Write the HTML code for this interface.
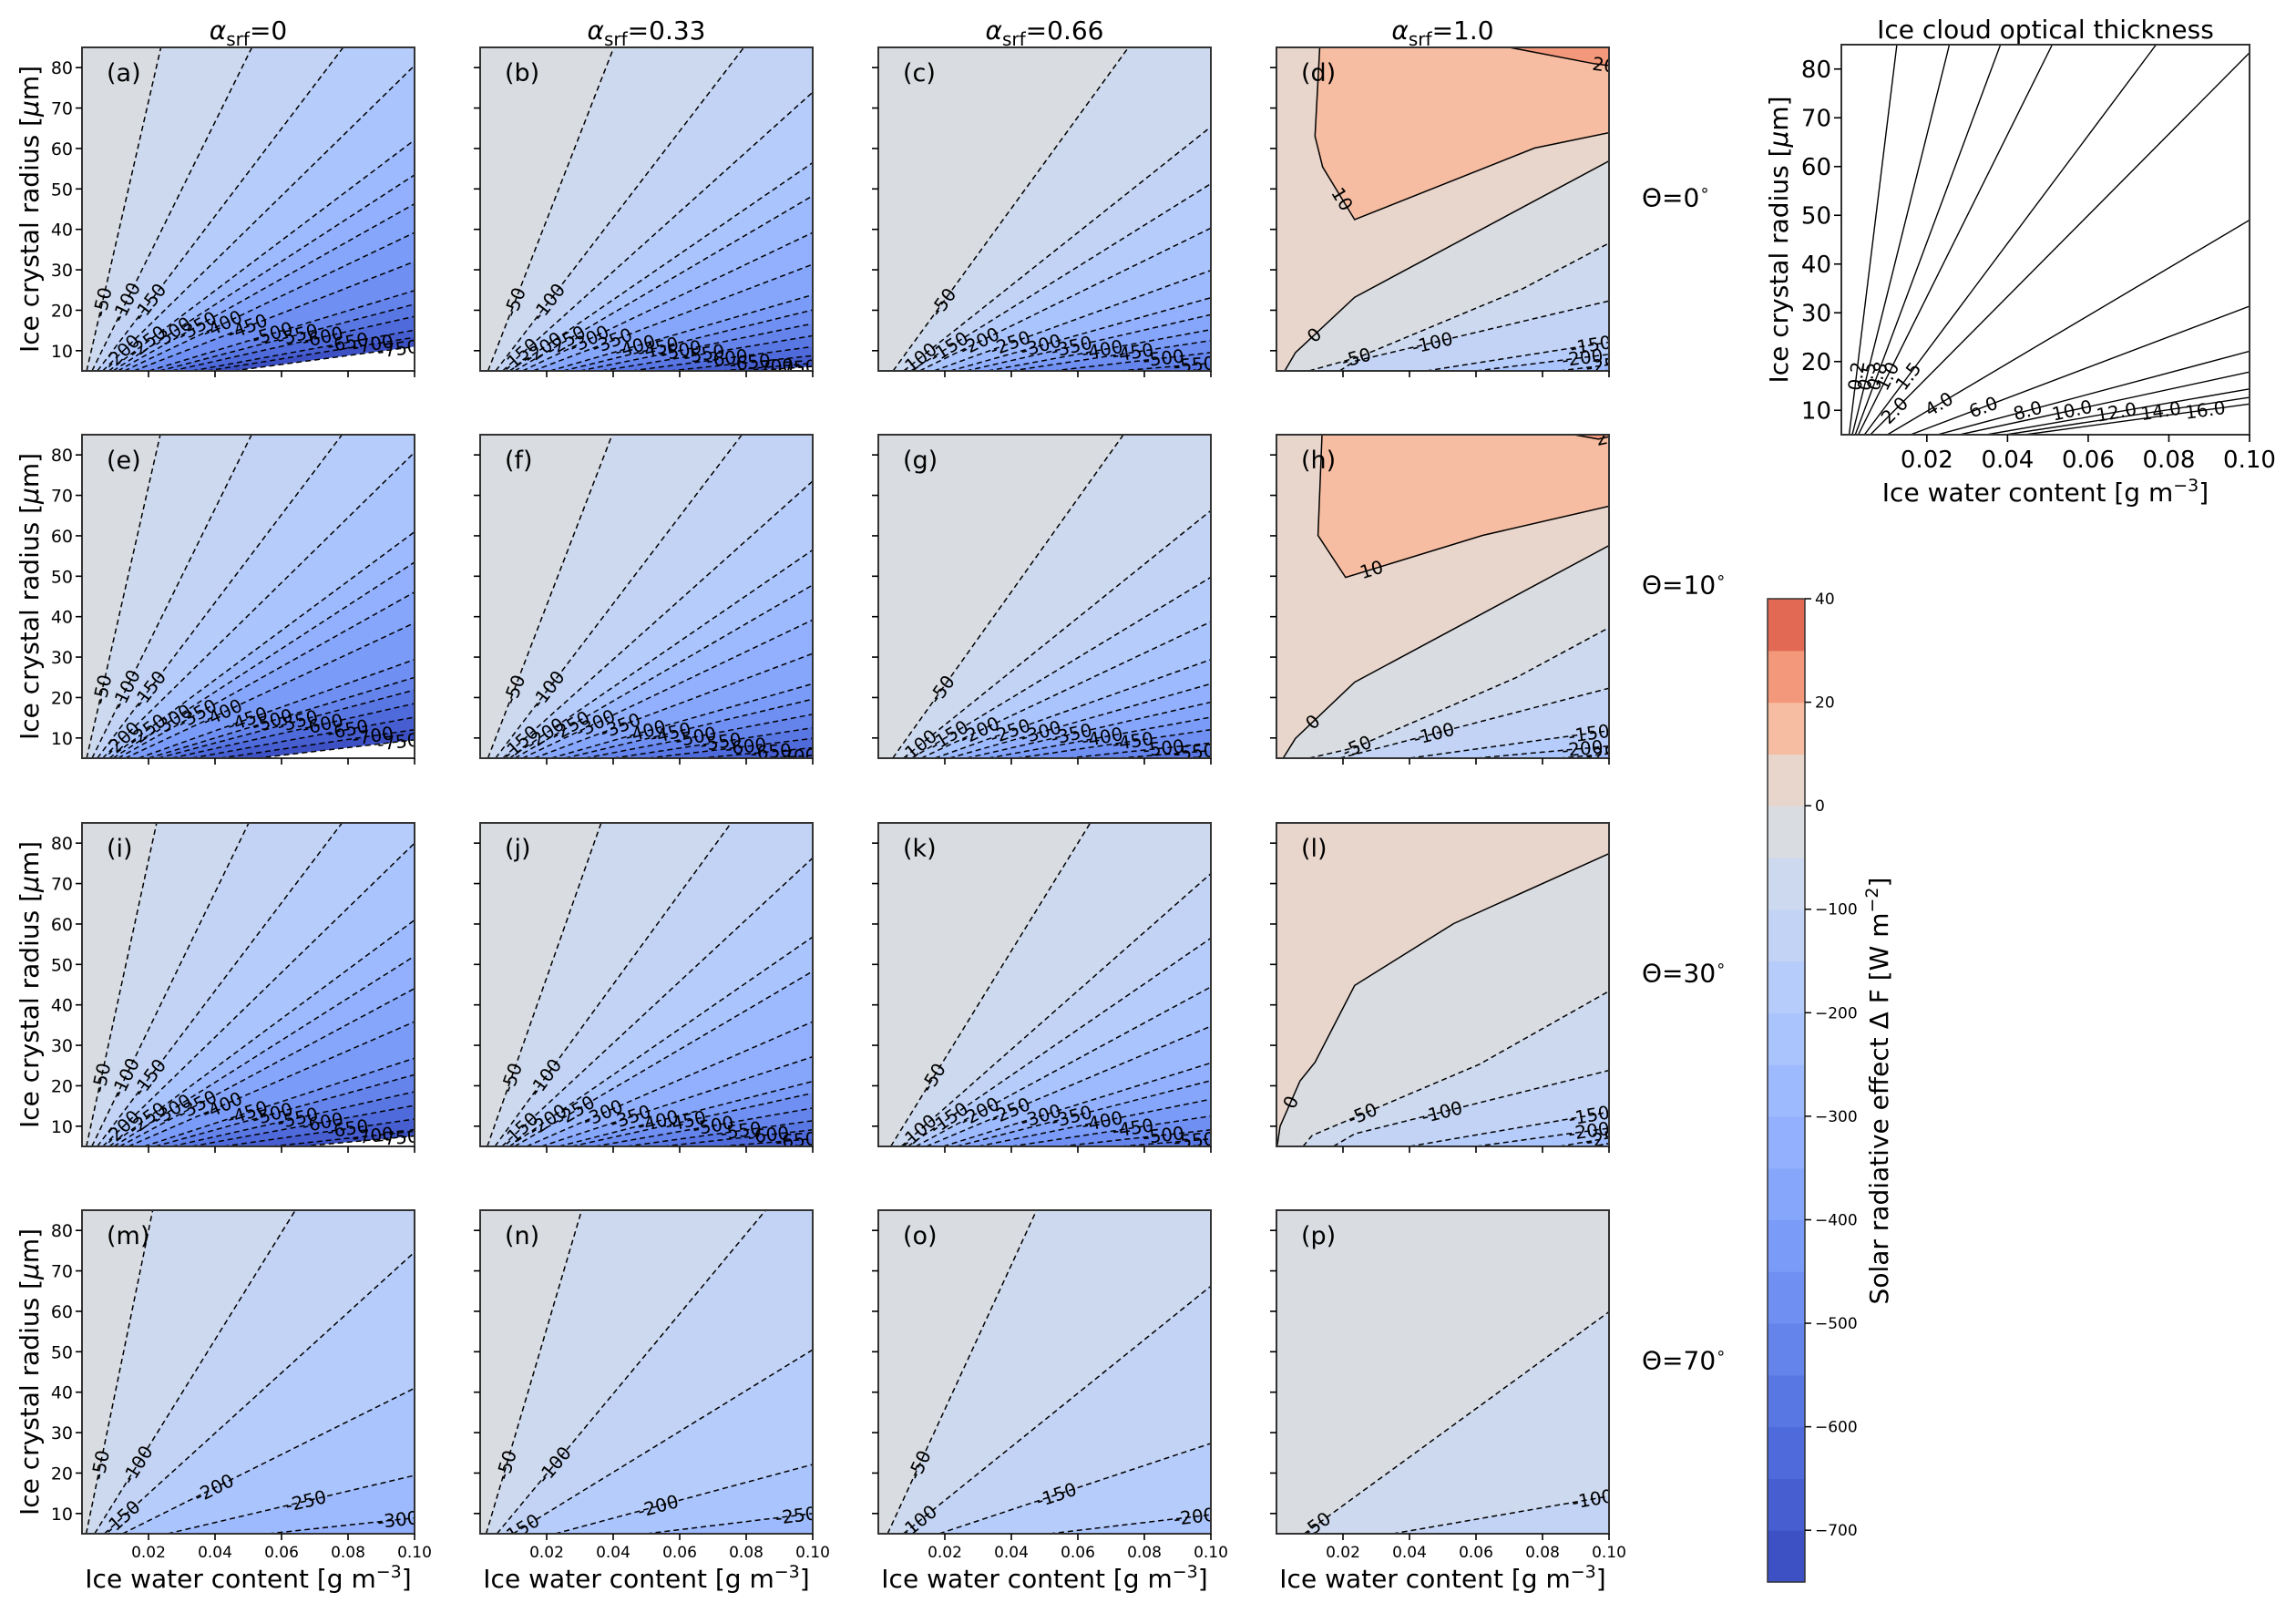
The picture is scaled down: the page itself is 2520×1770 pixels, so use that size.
<!DOCTYPE html>
<html><head><meta charset="utf-8"><title>Solar radiative effect of ice clouds</title>
<style>
html,body{margin:0;padding:0;background:#fff;width:2520px;height:1770px;overflow:hidden;}
svg{display:block;font-family:"DejaVu Sans","Liberation Sans",sans-serif;overflow:hidden;}
</style></head>
<body>
<svg id="fig" xmlns="http://www.w3.org/2000/svg" width="2520" height="1770" viewBox="0 0 2520 1770">
<rect x="0" y="0" width="2520" height="1770" fill="#ffffff"/>
</svg>
<script>
// ---------- data ----------
const levels = [-750,-700,-650,-600,-550,-500,-450,-400,-350,-300,-250,-200,-150,-100,-50,0,10,20,30,40];
const bandColors = ["rgb(61,81,196)","rgb(70,94,208)","rgb(79,106,218)","rgb(89,119,227)","rgb(100,131,235)","rgb(111,143,242)","rgb(122,155,247)","rgb(134,166,251)","rgb(146,176,254)","rgb(158,186,254)","rgb(170,196,253)","rgb(182,204,250)","rgb(194,211,245)","rgb(205,217,238)","rgb(217,220,225)","rgb(232,214,204)","rgb(246,189,162)","rgb(243,152,122)","rgb(226,106,84)"];
const negLevels = [-50,-100,-150,-200,-250,-300,-350,-400,-450,-500,-550,-600,-650,-700,-750];
// contour ratio IWC/r (x1e-3 g m^-3 per um) at the exit point
const ratiosA = [0.279,0.601,0.924,1.242,1.61,1.87,2.16,2.55,3.12,4.02,4.65,5.41,6.62,7.52,9.09];
const ratiosB = [0.473,0.933,1.353,1.77,2.07,2.55,3.19,4.2,4.98,5.99,7.3,9.1,11.4,14.5,16.4];
const ratiosC = [0.885,1.53,1.95,2.48,3.35,4.33,5.29,6.58,8.0,10.5,14.5];
const ratiosE = [0.277,0.60,0.92,1.24,1.64,1.87,2.17,2.6,3.4,4.0,4.57,5.4,6.6,8.3,10.5];
const ratiosF = [0.467,0.926,1.36,1.77,2.09,2.55,3.24,4.27,5.1,6.3,8.0,10.1,13.2,17.5];
const ratiosG = [0.867,1.51,2.01,2.58,3.4,4.27,5.3,6.6,8.3,11.4,14.5];
const ratiosI = [0.264,0.59,0.92,1.25,1.64,1.92,2.27,2.79,3.73,4.4,5.4,6.6,8.5,11.4,13.2];
const ratiosJ = [0.428,0.888,1.31,1.76,2.07,2.79,3.68,4.74,5.5,6.9,8.8,11,14.5];
const ratiosK = [0.75,1.38,1.77,2.25,2.88,3.9,4.7,6.0,8.0,11,14.6];
const ratiosM = [0.25,0.755,1.34,2.44,5.15,11.2];
const ratiosN = [0.359,1.01,1.98,4.52,10];
const ratiosO = [0.56,1.51,3.66,10.3];
const ratiosP = [1.67,7.0];
const contoursD = [
 {level:10, dir:1, lab:0.35, pts:[[0.013,85],[0.0116,63],[0.0139,55.4],[0.0235,42.4],[0.0776,60.1],[0.1,63.9]]},
 {level:20, dir:1, lab:0.95, pts:[[0.070,85],[0.0954,81],[0.1,80.5]]},
 {level:0, dir:-1, lab:0.12, pts:[[0.0025,5],[0.0057,9.5],[0.0235,23.2],[0.1,56.9]]},
 {level:-50, dir:-1, lab:0.15, pts:[[0.0098,5],[0.025,8.5],[0.074,25.3],[0.1,36.6]]},
 {level:-100, dir:-1, lab:0.35, pts:[[0.019,5],[0.0235,7.4],[0.1,22.3]]},
 {level:-150, dir:-1, lab:0.9, pts:[[0.045,5],[0.1,12.1]]},
 {level:-200, dir:-1, lab:0.8, pts:[[0.06,5],[0.1,9.1]]},
 {level:-250, dir:-1, lab:0.95, pts:[[0.085,5],[0.1,6.5]]}
];
const contoursH = [
 {level:10, dir:1, lab:0.42, pts:[[0.0137,85],[0.0125,60.1],[0.0208,49.7],[0.062,60.1],[0.1,67.3]]},
 {level:20, dir:1, lab:0.95, pts:[[0.0895,85],[0.0968,83.9],[0.1,84.5]]},
 {level:0, dir:-1, lab:0.12, pts:[[0.002,5],[0.0057,9.9],[0.0235,23.8],[0.1,57.6]]},
 {level:-50, dir:-1, lab:0.15, pts:[[0.0098,5],[0.0235,7.6],[0.072,24.9],[0.1,37.3]]},
 {level:-100, dir:-1, lab:0.35, pts:[[0.019,5],[0.1,22.3]]},
 {level:-150, dir:-1, lab:0.9, pts:[[0.04,5],[0.1,11.8]]},
 {level:-200, dir:-1, lab:0.8, pts:[[0.06,5],[0.1,8.0]]},
 {level:-250, dir:-1, lab:0.95, pts:[[0.085,5],[0.1,6.1]]}
];
const contoursL = [
 {level:0, dir:-1, lab:0.1, pts:[[0.0002,5],[0.0011,10],[0.0071,21.2],[0.0116,25.8],[0.0235,44.8],[0.0533,60.1],[0.1,77.4]]},
 {level:-50, dir:-1, lab:0.2, pts:[[0.008,5],[0.0107,7.7],[0.061,25.3],[0.1,43.4]]},
 {level:-100, dir:-1, lab:0.4, pts:[[0.0171,5],[0.0235,8.1],[0.1,23.8]]},
 {level:-150, dir:-1, lab:0.9, pts:[[0.04,5],[0.1,13.5]]},
 {level:-200, dir:-1, lab:0.85, pts:[[0.06,5],[0.1,9.5]]},
 {level:-250, dir:-1, lab:0.95, pts:[[0.085,5],[0.1,7.1]]}
];
const tauLevels = [0.2,0.5,0.8,1.0,1.5,2.0,4.0,6.0,8.0,10,12,14,16];
const tauRatios = [0.1478,0.301,0.45,0.601,0.904,1.2,2.04,3.19,4.52,5.6,6.95,7.9,8.85];
const xTicks = [0.02,0.04,0.06,0.08,0.10];
const xTickLabels = ["0.02","0.04","0.06","0.08","0.10"];
const yTicks = [10,20,30,40,50,60,70,80];
const cbTicks = [40,20,0,-100,-200,-300,-400,-500,-600,-700];
const colTitles = ["0","0.33","0.66","1.0"];
const rowTitles = ["0","10","30","70"];

// ---------- layout ----------
const NS = "http://www.w3.org/2000/svg";
const svg = document.getElementById("fig");
const colLeft = [90,527,964,1401], rowTop = [52,477,903,1328], PW = 365, PH = 355;
const XMIN = 0, XMAX = 0.1, RMIN = 5, RMAX = 85;

function mk(tag, attrs, parent){
  const e = document.createElementNS(NS, tag);
  for (const k in attrs) e.setAttribute(k, attrs[k]);
  (parent || svg).appendChild(e);
  return e;
}
function bandColor(level, dir){
  const idx = levels.indexOf(level);
  const lo = dir > 0 ? idx : idx - 1;
  return (lo < 0 || lo >= bandColors.length) ? "#ffffff" : bandColors[lo];
}
function rayContours(ratios){
  const out = [];
  const nTop = ratios.filter(s => s/1000*RMAX <= XMAX).length;
  const nRight = ratios.length - nTop;
  ratios.forEach((rv, k) => {
    const s = rv/1000;
    const start = [RMIN*s, RMIN];
    let exit, lab;
    if (s*RMAX <= XMAX) { exit = [s*RMAX, RMAX]; lab = {r: 22}; }
    else {
      exit = [XMAX, XMAX/s];
      const j = k - nTop;
      lab = {x: 0.012 + 0.083*(nRight > 1 ? j/(nRight-1) : 0)};
    }
    out.push({level: negLevels[k], dir: -1, pts: [start, exit], labAt: lab});
  });
  return out;
}
function pointAlong(pts, frac){
  let L = 0; const seg = [];
  for (let i=1;i<pts.length;i++){ const d=Math.hypot(pts[i][0]-pts[i-1][0], pts[i][1]-pts[i-1][1]); seg.push(d); L+=d; }
  let t = frac*L;
  for (let i=0;i<seg.length;i++){
    if (t <= seg[i] || i === seg.length-1){
      const f = seg[i] ? Math.min(1, t/seg[i]) : 0;
      const a = pts[i], b = pts[i+1];
      return {x: a[0]+(b[0]-a[0])*f, y: a[1]+(b[1]-a[1])*f, ang: Math.atan2(b[1]-a[1], b[0]-a[0])*180/Math.PI};
    }
    t -= seg[i];
  }
}
function drawLabel(g, px, py, ang, text, fs){
  if (ang > 90) ang -= 180; if (ang < -90) ang += 180;
  const t = mk("text", {x: px, y: py, "font-size": fs, "text-anchor": "middle", "dominant-baseline": "central", transform: `rotate(${ang.toFixed(1)} ${px.toFixed(1)} ${py.toFixed(1)})`, fill: "#000"}, g);
  
  
  t.textContent = text;
}

const panels = [
 {id:"a", row:0, col:0, ratios:ratiosA}, {id:"b", row:0, col:1, ratios:ratiosB}, {id:"c", row:0, col:2, ratios:ratiosC}, {id:"d", row:0, col:3, contours:contoursD},
 {id:"e", row:1, col:0, ratios:ratiosE}, {id:"f", row:1, col:1, ratios:ratiosF}, {id:"g", row:1, col:2, ratios:ratiosG}, {id:"h", row:1, col:3, contours:contoursH},
 {id:"i", row:2, col:0, ratios:ratiosI}, {id:"j", row:2, col:1, ratios:ratiosJ}, {id:"k", row:2, col:2, ratios:ratiosK}, {id:"l", row:2, col:3, contours:contoursL},
 {id:"m", row:3, col:0, ratios:ratiosM}, {id:"n", row:3, col:1, ratios:ratiosN}, {id:"o", row:3, col:2, ratios:ratiosO}, {id:"p", row:3, col:3, ratios:ratiosP}
];
const defs = mk("defs", {});

panels.forEach(p => {
  const left = colLeft[p.col], top = rowTop[p.row];
  const sx = x => left + (x - XMIN)/(XMAX - XMIN)*PW;
  const sy = r => top + (RMAX - r)/(RMAX - RMIN)*PH;
  const g = mk("g", {});
  
  
  const cp = mk("clipPath", {id: "clip-" + p.id}, defs);
  mk("rect", {x: left, y: top, width: PW, height: PH}, cp);
  const inner = mk("g", {"clip-path": `url(#clip-${p.id})`}, g);
  const isRay = !!p.ratios;
  const contours = isRay ? rayContours(p.ratios) : p.contours;
  const bg = mk("rect", {x: left, y: top, width: PW, height: PH, fill: isRay ? bandColor(-50, 1) : bandColor(0, 1)}, inner);
  
  
  contours.forEach(c => {
    const f = c.pts[0], l = c.pts[c.pts.length-1];
    const edge = c.dir > 0 ? RMAX : RMIN;
    const poly = c.pts.concat([[XMAX, l[1]], [XMAX, edge], [f[0], edge]]);
    const pg = mk("polygon", {points: poly.map(q => sx(q[0]).toFixed(1)+","+sy(q[1]).toFixed(1)).join(" "), fill: bandColor(c.level, c.dir)}, inner);
    
    
  });
  contours.forEach(c => {
    const pl = mk("polyline", {points: c.pts.map(q => sx(q[0]).toFixed(1)+","+sy(q[1]).toFixed(1)).join(" "), fill: "none", stroke: "#000", "stroke-width": 1.5, "stroke-dasharray": c.level < 0 ? "6,4" : "none"}, inner);
    
    
    const pix = c.pts.map(q => [sx(q[0]), sy(q[1])]);
    let pos;
    if (c.labAt) {
      const a = c.pts[0], b = c.pts[c.pts.length-1];
      let frac;
      if (c.labAt.r !== undefined) frac = (c.labAt.r - a[1])/(b[1]-a[1]);
      else frac = (c.labAt.x - a[0])/(b[0]-a[0]);
      frac = Math.max(0.02, Math.min(0.97, frac));
      const pa = pix[0], pb = pix[pix.length-1];
      pos = {x: pa[0]+(pb[0]-pa[0])*frac, y: pa[1]+(pb[1]-pa[1])*frac, ang: Math.atan2(pb[1]-pa[1], pb[0]-pa[0])*180/Math.PI};
    } else pos = pointAlong(pix, c.lab);
    drawLabel(inner, pos.x, pos.y, pos.ang, String(c.level), 20);
  });
  // frame
  const fr = mk("rect", {x: left, y: top, width: PW, height: PH, fill: "none", stroke: "#333", "stroke-width": 2}, g);
  
  
  // ticks
  xTicks.forEach((t, i) => {
    const x = sx(t);
    mk("line", {x1: x, y1: top+PH, x2: x, y2: top+PH+7, stroke: "#000", "stroke-width": 1.6}, g);
    if (p.row === 3) {
      const tl = mk("text", {x: x, y: top+PH+26, "font-size": 17, "text-anchor": "middle"}, g);
      
      
      tl.textContent = xTickLabels[i];
    }
  });
  yTicks.forEach(t => {
    const y = sy(t);
    mk("line", {x1: left-7, y1: y, x2: left, y2: y, stroke: "#000", "stroke-width": 1.6}, g);
    if (p.col === 0) {
      const tl = mk("text", {x: left-10, y: y+7, "font-size": 19, "text-anchor": "end"}, g);
      
      
      tl.textContent = String(t);
    }
  });
  const letter = mk("text", {x: left+27, y: top+37, "font-size": 27}, g);
  
  
  letter.textContent = "(" + p.id + ")";
  if (p.col === 0) {
    const yl = mk("text", {x: 0, y: 0, "font-size": 28, "text-anchor": "middle", transform: `translate(42 ${top+PH/2}) rotate(-90)`}, g);
    
    
    yl.innerHTML = 'Ice crystal radius [<tspan font-style="italic">μ</tspan>m]';
  }
  if (p.row === 3) {
    const xl = mk("text", {x: left+PW/2, y: 1742, "font-size": 28, "text-anchor": "middle"}, g);
    
    
    xl.innerHTML = 'Ice water content [g m<tspan dy="-11" font-size="19">−3</tspan><tspan dy="11">]</tspan>';
  }
});

// column titles
colTitles.forEach((v, i) => {
  const t = mk("text", {x: colLeft[i]+PW/2, y: 43, "font-size": 28, "text-anchor": "middle"});
  
  
  t.innerHTML = '<tspan font-style="italic">α</tspan><tspan dy="7" font-size="20">srf</tspan><tspan dy="-7">=' + v + '</tspan>';
});
// row titles
rowTitles.forEach((v, i) => {
  const t = mk("text", {x: 1802, y: rowTop[i]+PH/2-3, "font-size": 28});
  
  
  t.innerHTML = 'Θ=' + v + '<tspan dy="-12" font-size="18">∘</tspan>';
});

// ---------- optical thickness panel ----------
(function(){
  const L = 2021, T = 49, W = 448, H = 428, OXMIN = -0.0012;
  const sx = x => L + (x - OXMIN)/(XMAX - OXMIN)*W;
  const sy = r => T + (RMAX - r)/(RMAX - RMIN)*H;
  const g = mk("g", {});
  
  
  const cp = mk("clipPath", {id: "clip-tau"}, defs);
  mk("rect", {x: L, y: T, width: W, height: H}, cp);
  const inner = mk("g", {"clip-path": "url(#clip-tau)"}, g);
  mk("rect", {x: L, y: T, width: W, height: H, fill: "#fff"}, inner);
  let j = 0;
  tauRatios.forEach((rv, k) => {
    const s = rv/1000;
    const a = [RMIN*s, RMIN];
    let b, lp;
    if (s*RMAX <= XMAX) { b = [s*RMAX, RMAX]; lp = [17*s, 17]; }
    else { b = [XMAX, XMAX/s]; const lx = 0.012 + 0.011*j; j++; lp = [lx, lx/s]; }
    const ln = mk("line", {x1: sx(a[0]), y1: sy(a[1]), x2: sx(b[0]), y2: sy(b[1]), stroke: "#000", "stroke-width": 1.4}, inner);
    
    
    const ang = Math.atan2(sy(b[1])-sy(a[1]), sx(b[0])-sx(a[0]))*180/Math.PI;
    drawLabel(inner, sx(lp[0]), sy(lp[1]), ang, tauLevels[k].toFixed(1), 20);
  });
  const fr = mk("rect", {x: L, y: T, width: W, height: H, fill: "none", stroke: "#333", "stroke-width": 2}, g);
  
  
  xTicks.forEach((t, i) => {
    const x = sx(t);
    mk("line", {x1: x, y1: T+H, x2: x, y2: T+H+8, stroke: "#000", "stroke-width": 1.6}, g);
    const tl = mk("text", {x: x, y: T+H+36, "font-size": 26, "text-anchor": "middle"}, g);
    
    
    tl.textContent = xTickLabels[i];
  });
  yTicks.forEach(t => {
    const y = sy(t);
    mk("line", {x1: L-8, y1: y, x2: L, y2: y, stroke: "#000", "stroke-width": 1.6}, g);
    const tl = mk("text", {x: L-11, y: y+9, "font-size": 26, "text-anchor": "end"}, g);
    
    
    tl.textContent = String(t);
  });
  const title = mk("text", {x: L+W/2, y: 42, "font-size": 28, "text-anchor": "middle"}, g);
  
  
  title.textContent = "Ice cloud optical thickness";
  const yl = mk("text", {x: 0, y: 0, "font-size": 28, "text-anchor": "middle", transform: `translate(1962 ${T+H/2}) rotate(-90)`}, g);
  
  
  yl.innerHTML = 'Ice crystal radius [<tspan font-style="italic">μ</tspan>m]';
  const xl = mk("text", {x: L+W/2, y: 550, "font-size": 28, "text-anchor": "middle"}, g);
  
  
  xl.innerHTML = 'Ice water content [g m<tspan dy="-11" font-size="19">−3</tspan><tspan dy="11">]</tspan>';
})();

// ---------- colorbar ----------
(function(){
  const L = 1940, T = 657, W = 41, B = 1736;
  const bh = (B - T)/bandColors.length;
  const cy = v => B - levels.indexOf(v)*bh;
  const g = mk("g", {});
  
  
  bandColors.forEach((c, i) => {
    const r = mk("rect", {x: L, y: (B - (i+1)*bh).toFixed(2), width: W, height: (bh+0.6).toFixed(2), fill: c}, g);
    
    
  });
  mk("rect", {x: L, y: T, width: W, height: B-T, fill: "none", stroke: "#333", "stroke-width": 1.5}, g);
  cbTicks.forEach(v => {
    const y = cy(v);
    mk("line", {x1: L+W, y1: y, x2: L+W+7, y2: y, stroke: "#000", "stroke-width": 1.5}, g);
    const t = mk("text", {x: L+W+11, y: y+6, "font-size": 17}, g);
    
    
    t.textContent = v < 0 ? "−" + Math.abs(v) : String(v);
  });
  const lab = mk("text", {x: 0, y: 0, "font-size": 28, "text-anchor": "middle", transform: "translate(2072 1197) rotate(-90)"}, g);
  
  
  lab.innerHTML = 'Solar radiative effect Δ F [W m<tspan dy="-11" font-size="19">−2</tspan><tspan dy="11">]</tspan>';
})();
</script>
</body></html>
